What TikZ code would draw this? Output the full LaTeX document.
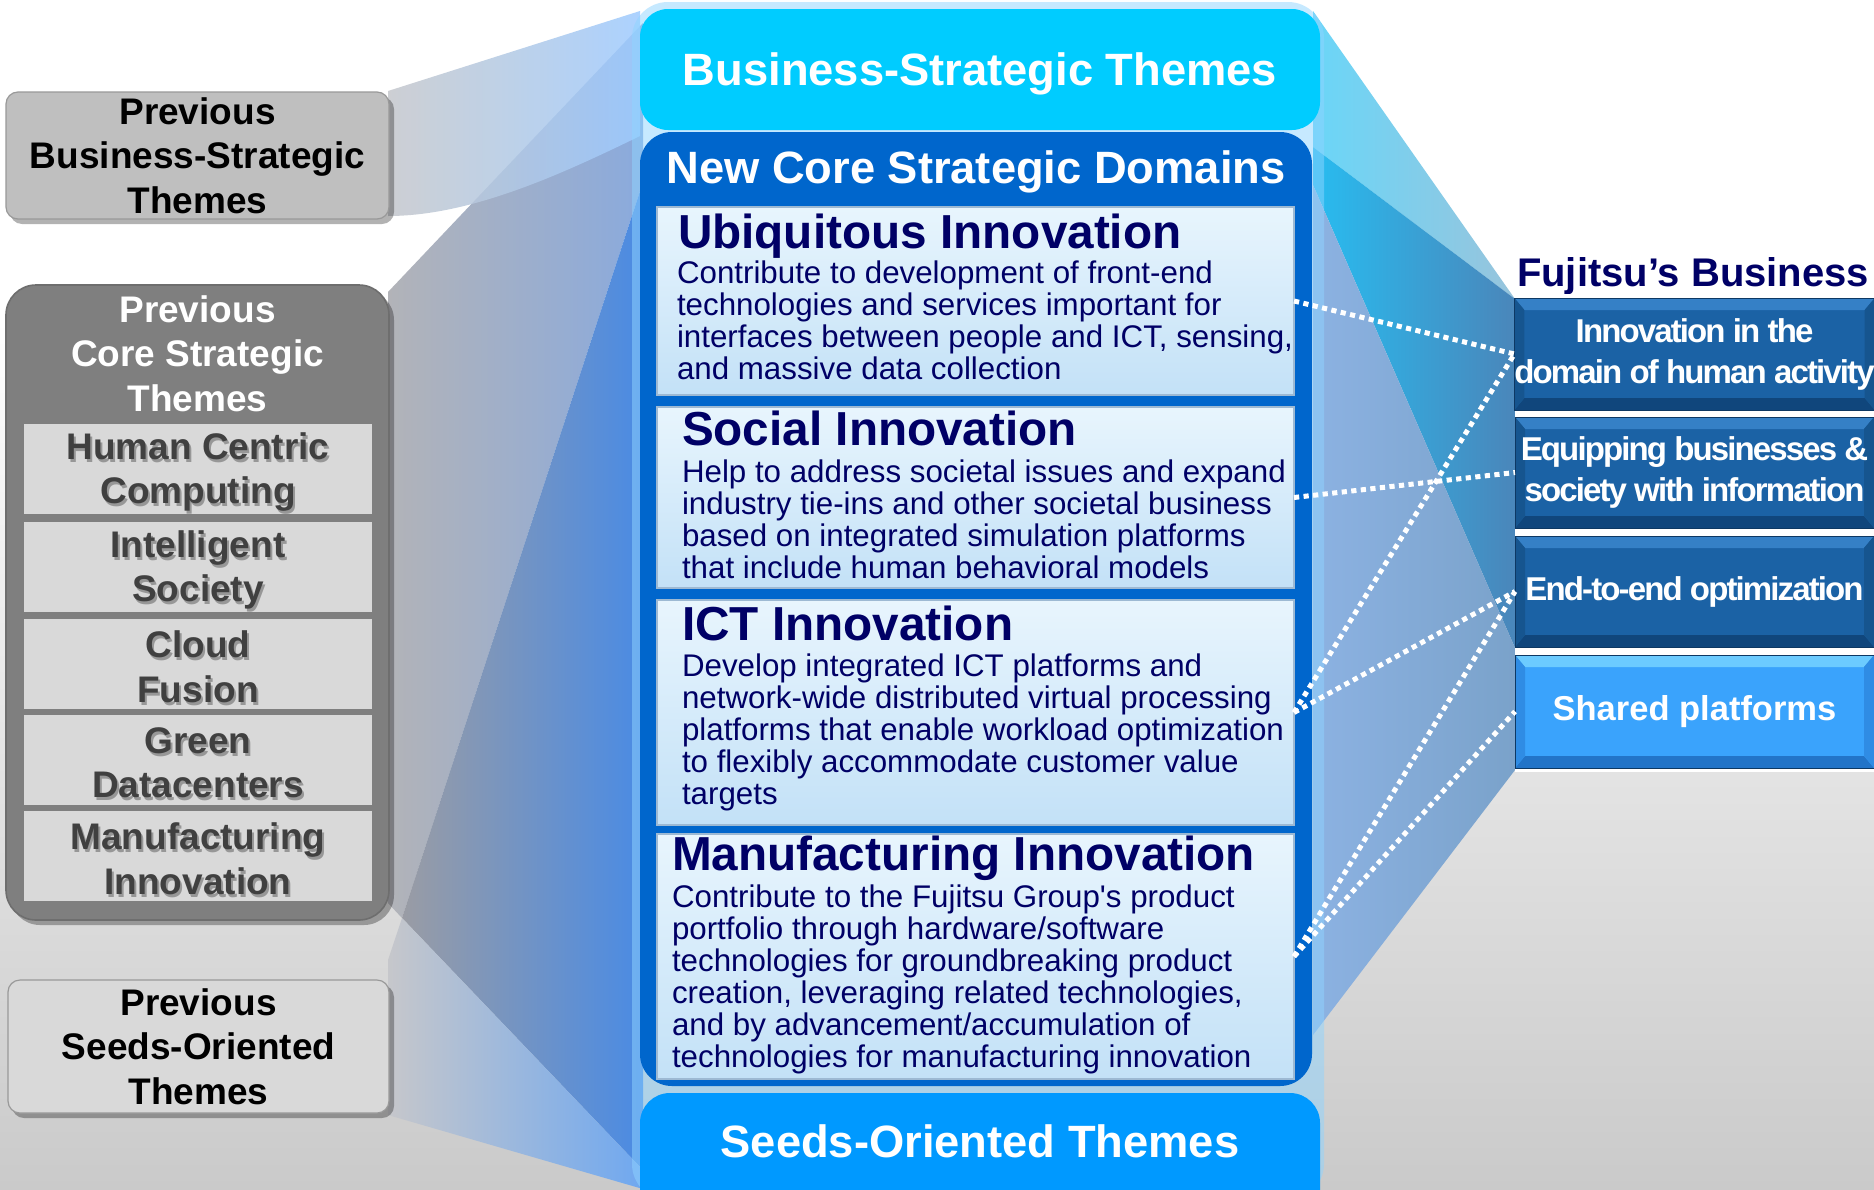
\documentclass[tikz,border=0pt]{standalone}
\usepackage{fontspec}
\setmainfont{Liberation Sans}
\newfontfamily\condfont[LetterSpace=-5.7]{Liberation Sans}
\usetikzlibrary{calc}
\definecolor{navy}{HTML}{000066}
\definecolor{cyanbox}{HTML}{00CCFF}
\definecolor{corebox}{HTML}{0066CC}
\definecolor{seedbox}{HTML}{0099FF}
\definecolor{glowc}{HTML}{8FD4FF}
\definecolor{bgbot}{HTML}{CACACA}
\definecolor{aL}{HTML}{B2B3B8}\definecolor{aR}{HTML}{8AAADD}
\definecolor{abL}{HTML}{9A9CA4}\definecolor{abR}{HTML}{4A8BE4}
\definecolor{bL}{HTML}{C6C7CB}\definecolor{bR}{HTML}{6FA8F0}
\definecolor{cL}{HTML}{C5C7CC}\definecolor{cR}{HTML}{9ECBFF}
\definecolor{r1L}{HTML}{6AD6F8}\definecolor{r1R}{HTML}{98C4DC}
\definecolor{r2L}{HTML}{28BCF0}\definecolor{r2R}{HTML}{4A86BA}
\definecolor{r3L}{HTML}{8CB2E2}\definecolor{r3R}{HTML}{7AA2CA}
\definecolor{pbizfill}{HTML}{BFBFBF}
\definecolor{pcorefill}{HTML}{7F7F7F}
\definecolor{plight}{HTML}{D9D9D9}
\definecolor{pline}{HTML}{6E6E6E}
\definecolor{graytxt}{HTML}{404040}
\definecolor{wtop}{HTML}{E8F5FD}
\definecolor{wbot}{HTML}{C3E1F7}
\definecolor{wline}{HTML}{9DB9D3}
\definecolor{fjface}{HTML}{1B62A5}\definecolor{fjtop}{HTML}{3580C6}
\definecolor{fjbot}{HTML}{10467C}\definecolor{fjside}{HTML}{16558F}
\definecolor{spface}{HTML}{3AA3FC}\definecolor{sptop}{HTML}{6CCBFF}
\definecolor{spbot}{HTML}{2274C8}\definecolor{spside}{HTML}{2F8CE4}
\begin{document}
\begin{tikzpicture}[x=0.5pt,y=-0.5pt,
  every node/.style={inner sep=0pt,outer sep=0pt},
  prevfont/.style={font=\bfseries\fontsize{18.5}{22.25}\selectfont,align=center},
  innerbox/.style={fill=plight,minimum width=174pt,minimum height=45pt},
  innertxt/.style={prevfont,text=graytxt},
  innershadow/.style={prevfont,text=black,opacity=0.3},
  bigfont/.style={font=\bfseries\fontsize{22.65}{26}\selectfont,text=white,anchor=base},
  wbox/.style={top color=wtop,bottom color=wbot,draw=wline,line width=0.6pt,minimum width=318.5pt},
  wtitle/.style={font=\bfseries\fontsize{23.85}{26}\selectfont,text=navy,anchor=base west},
  wbody/.style={font=\fontsize{15.65}{16}\selectfont,text=navy,align=left,anchor=north west},
  fjbox/.style n args={4}{fill=#1,draw=fjbot!80!black,line width=0.5pt,minimum width=179.5pt,
     font=\condfont\bfseries\fontsize{16.5}{20.5}\selectfont,text=white,align=center,
     path picture={
       \coordinate (pnw) at (path picture bounding box.north west);
       \coordinate (pne) at (path picture bounding box.north east);
       \coordinate (psw) at (path picture bounding box.south west);
       \coordinate (pse) at (path picture bounding box.south east);
       \fill[#2] (pnw) -- (pne) -- ([shift={(-5pt,-6pt)}]pne) -- ([shift={(5pt,-6pt)}]pnw) -- cycle;
       \fill[#3] (psw) -- (pse) -- ([shift={(-5pt,6pt)}]pse) -- ([shift={(5pt,6pt)}]psw) -- cycle;
       \fill[#4] (pnw) -- ([shift={(5pt,-6pt)}]pnw) -- ([shift={(5pt,6pt)}]psw) -- (psw) -- cycle;
       \fill[#4] (pne) -- ([shift={(-5pt,-6pt)}]pne) -- ([shift={(-5pt,6pt)}]pse) -- (pse) -- cycle;
     }},
  dotline/.style={white,line width=2.5pt,dash pattern=on 2.6pt off 2.2pt}
]
\useasboundingbox (0,0) rectangle (1874,1189);
\clip (0,0) rectangle (1874,1189);
% background
\fill[white] (0,0) rectangle (1874,320);
\shade[top color=white,bottom color=bgbot] (0,319) rectangle (1874,1189);

% left funnels
\shade[left color=aL,right color=aR] (388,292) -- (643,23) -- (643,182) -- (402,918) -- (388,903) -- cycle;
\shade[left color=abL,right color=abR] (643,182) -- (643,1170) -- (402,918) -- cycle;
\shade[left color=bL,right color=bR] (388,960) -- (402,918) -- (643,1170) -- (643,1189) -- (388,1115) -- cycle;
\shade[left color=cL,right color=cR,opacity=0.85] (388,91) -- (640,11) -- (640,136) .. controls (560,175) and (470,216) .. (388,216) -- cycle;

% right funnels
\shade[left color=r1L,right color=r1R] (1313,11) -- (1515,299) -- (1313,147) -- cycle;
\shade[left color=r2L,right color=r2R] (1313,147) -- (1515,299) -- (1515,648) -- (1313,185) -- cycle;
\shade[left color=r3L,right color=r3R] (1313,185) -- (1515,648) -- (1515,770) -- (1313,1035) -- cycle;

% glow of the centre column
\fill[glowc,opacity=0.5,rounded corners=18pt] (632,2) rectangle (1324,1200);

% previous business-strategic themes
\fill[black,opacity=0.3,rounded corners=6pt] (10,97) rectangle (394,224);
\node[prevfont,fill=pbizfill,draw=pline!70,line width=0.6pt,rounded corners=6pt,
      minimum width=191.5pt,minimum height=63.5pt] (pbiz) at (197.5,155.5)
      {Previous\\Business-Strategic\\Themes};

% previous core strategic themes
\fill[black,opacity=0.3,rounded corners=15pt] (10,290) rectangle (394,925);
\node[fill=pcorefill,draw=pline,line width=0.8pt,rounded corners=15pt,
      minimum width=191.5pt,minimum height=317.5pt] (pcore) at (197.5,602.5) {};
\node[prevfont,text=white,anchor=north] (pcoret) at (197.5,295.4) {Previous\\Core Strategic\\Themes};

\node[innerbox] (hcc) at (198,469) {};
\node[innershadow] (hccs) at (200,475) {Human Centric\\Computing};
\node[innertxt] (hcct) at (198,472) {Human Centric\\Computing};

\node[innerbox] (ins) at (198,567) {};
\node[innershadow] (inss) at (200,573) {Intelligent\\Society};
\node[innertxt] (inst) at (198,570) {Intelligent\\Society};

\node[innerbox] (clf) at (198,664) {};
\node[innershadow] (clfs) at (200,670) {Cloud\\Fusion};
\node[innertxt] (clft) at (198,667) {Cloud\\Fusion};

\node[innerbox] (gdc) at (198,760) {};
\node[innershadow] (gdcs) at (200,766) {Green\\Datacenters};
\node[innertxt] (gdct) at (198,763) {Green\\Datacenters};

\node[innerbox] (mfi) at (198,856) {};
\node[innershadow] (mfis) at (200,862) {Manufacturing\\Innovation};
\node[innertxt] (mfit) at (198,859) {Manufacturing\\Innovation};

% previous seeds-oriented themes
\fill[black,opacity=0.3,rounded corners=6pt] (12,985) rectangle (394,1118);
\node[prevfont,fill=plight,draw=pline!70,line width=0.6pt,rounded corners=6pt,
      minimum width=190.5pt,minimum height=66.5pt] (pseed) at (198.5,1046.5)
      {Previous\\Seeds-Oriented\\Themes};

% centre column
\node[fill=cyanbox,rounded corners=14pt,minimum width=340pt,minimum height=60.5pt] (bst) at (980,69.5) {};
\node[bigfont] (bstt) at (980,85) {Business-Strategic Themes};
\node[fill=corebox,rounded corners=16pt,minimum width=336pt,minimum height=477pt] (ncd) at (976,609) {};
\node[bigfont] (ncdt) at (976,183) {New Core Strategic Domains};
\node[fill=seedbox,rounded corners=15pt,minimum width=340pt,minimum height=80pt] (sot) at (980,1173) {};
\node[bigfont] (sott) at (980,1157) {Seeds-Oriented Themes};

\node[wbox,minimum height=94pt] (ubq) at (975.5,301) {};
\node[wtitle] (ubqt) at (678,248) {Ubiquitous Innovation};
\node[wbody] (ubqb) at (677,261) {Contribute to development of front-end\\technologies and services important for\\interfaces between people and ICT, sensing,\\and massive data collection};

\node[wbox,minimum height=90.5pt] (soc) at (975.5,497.5) {};
\node[wtitle] (soct) at (682,445) {Social Innovation};
\node[wbody] (socb) at (682,460) {Help to address societal issues and expand\\industry tie-ins and other societal business\\based on integrated simulation platforms\\that include human behavioral models};

\node[wbox,minimum height=112.5pt] (ict) at (975.5,712.5) {};
\node[wtitle] (ictt) at (682,640) {ICT Innovation};
\node[wbody] (ictb) at (682,654) {Develop integrated ICT platforms and\\network-wide distributed virtual processing\\platforms that enable workload optimization\\to flexibly accommodate customer value\\targets};

\node[wbox,minimum height=122.5pt] (mfg) at (975.5,956.5) {};
\node[wtitle] (mfgt) at (672,870) {Manufacturing Innovation};
\node[wbody] (mfgb) at (672,885) {Contribute to the Fujitsu Group\textquotesingle s product\\portfolio through hardware/software\\technologies for groundbreaking product\\creation, leveraging related technologies,\\and by advancement/accumulation of\\technologies for manufacturing innovation};

% Fujitsu's business
\node[font=\bfseries\fontsize{20}{24}\selectfont,text=navy,anchor=base east] (fjt) at (1869,286) {Fujitsu’s Business};
\fill[white] (1515,294) rectangle (1874,772);
\node[fjbox={fjface}{fjtop}{fjbot}{fjside},minimum height=56pt] (fj1) at (1694.5,354) {Innovation in the\\domain of human activity};
\node[fjbox={fjface}{fjtop}{fjbot}{fjside},minimum height=55.5pt] (fj2) at (1694.5,472.5) {Equipping businesses \&\\society with information};
\node[fjbox={fjface}{fjtop}{fjbot}{fjside},minimum height=55.5pt] (fj3) at (1694.5,591.5) {End-to-end optimization};
\node[fjbox={spface}{sptop}{spbot}{spside},minimum height=56.5pt,font=\bfseries\fontsize{17.25}{20}\selectfont] (fj4) at (1694.5,711.5) {Shared platforms};

% dotted connectors
\draw[dotline] (ubq.east) -- (fj1.west);
\draw[dotline] (soc.east) -- (fj2.west);
\draw[dotline] (ict.east) -- (fj1.west);
\draw[dotline] (ict.east) -- (fj3.west);
\draw[dotline] (mfg.east) -- (fj3.west);
\draw[dotline] (mfg.east) -- (fj4.west);
\end{tikzpicture}
\end{document}
